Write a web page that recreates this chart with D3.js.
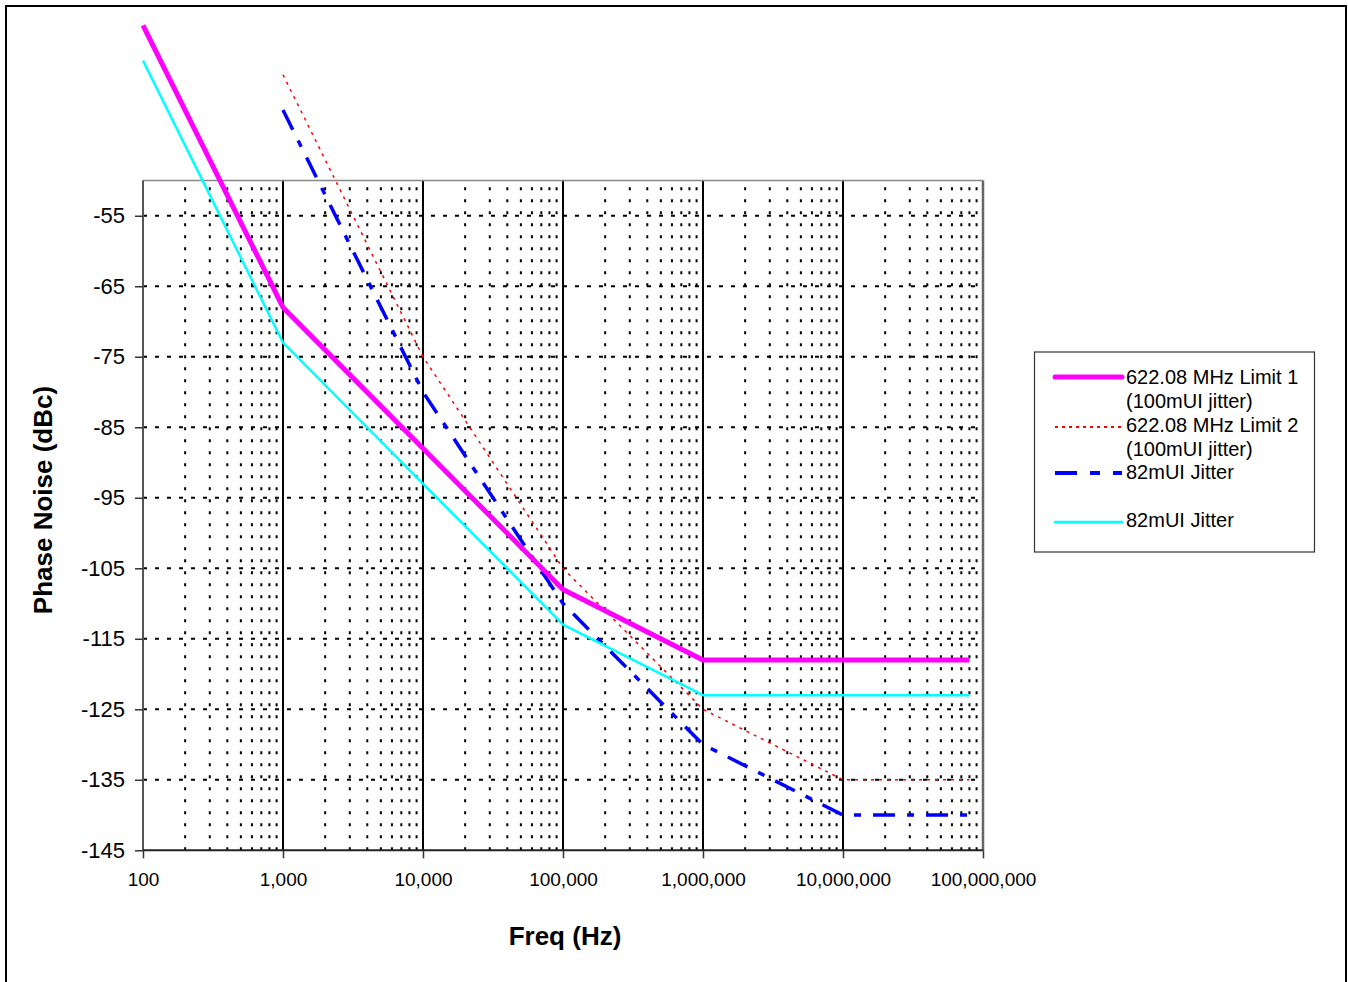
<!DOCTYPE html>
<html>
<head>
<meta charset="utf-8">
<script src="https://cdn.jsdelivr.net/npm/d3@7"></script>
<style>
  body { margin: 0; background: #fff; }
  text { font-family: "Liberation Sans", Arial, Helvetica, sans-serif; }
</style>
</head>
<body>
<script>
// Data
const freqLimit1 = [100, 1000, 100000, 1000000, 80000000]
const limit1 = [-28, -68, -108, -118, -118]
const freqCyan = [100, 1000, 100000, 1000000, 80000000]
const jitterCyan = [-33, -73, -113, -123, -123]
const freqLimit2 = [1000, 10000, 100000, 1000000, 10000000, 80000000]
const limit2 = [-35, -75, -105, -125, -135, -135]
const freqBlue = [1000, 10000, 100000, 1000000, 10000000, 80000000]
const jitterBlue = [-40, -80, -110, -130, -140, -140]

const yTicks = [-55, -65, -75, -85, -95, -105, -115, -125, -135, -145]
const xTicks = [100, 1000, 10000, 100000, 1000000, 10000000, 100000000]

const W = 1348, H = 982
const svg = d3.select('body').append('svg')
  .attr('width', W).attr('height', H)

// outer frame
svg.append('rect')
  .attr('x', 6).attr('y', 6)
  .attr('width', 1340).attr('height', 990)
  .attr('fill', 'none').attr('stroke', '#000').attr('stroke-width', 2)

const pLeft = 143, pRight = 983, pTop = 180.5, pBottom = 850.3

const x = d3.scaleLog().domain([100, 1e8]).range([pLeft, pRight])
const y = d3.scaleLinear().domain([-145, -50]).range([pBottom, pTop])

const g = svg.append('g')

// minor vertical dotted grid
let minors = []
for (let d = 100; d < 1e8; d *= 10) {
  for (let m = 2; m <= 9; m++) minors.push(d * m)
}
g.selectAll('.minor').data(minors).enter()
  .append('line')
  .attr('class', 'minor')
  .attr('x1', d => x(d)).attr('x2', d => x(d))
  .attr('y1', pBottom).attr('y2', pTop)
  .attr('stroke', '#000').attr('stroke-width', 2)
  .attr('stroke-dasharray', '3,9')

// horizontal dashed grid
g.selectAll('.hgrid').data(yTicks.filter(v => v > -145)).enter()
  .append('line')
  .attr('class', 'hgrid')
  .attr('x1', pLeft).attr('x2', pRight)
  .attr('y1', d => y(d)).attr('y2', d => y(d))
  .attr('stroke', '#000').attr('stroke-width', 2)
  .attr('stroke-dasharray', '4,8')

// major vertical lines
g.selectAll('.major').data(xTicks.slice(1, -1)).enter()
  .append('line')
  .attr('class', 'major')
  .attr('x1', d => x(d)).attr('x2', d => x(d))
  .attr('y1', pBottom).attr('y2', pTop)
  .attr('stroke', '#000').attr('stroke-width', 2)

// plot frame top/right
g.append('line')
  .attr('x1', pLeft).attr('x2', pRight).attr('y1', pTop).attr('y2', pTop)
  .attr('stroke', '#888').attr('stroke-width', 1.5)
g.append('line')
  .attr('x1', pRight).attr('x2', pRight).attr('y1', pTop).attr('y2', pBottom)
  .attr('stroke', '#666').attr('stroke-width', 2.5)

// axes
const yAxis = d3.axisLeft(y).tickValues(yTicks).tickSize(8).tickPadding(10)
  .tickFormat(d => d)
const xAxis = d3.axisBottom(x).tickValues(xTicks).tickSize(8).tickPadding(14)
  .tickFormat(d3.format(','))

const ya = svg.append('g').attr('transform', `translate(${pLeft},0)`).call(yAxis)
ya.select('.domain').attr('stroke', '#555').attr('stroke-width', 2)
  .attr('d', `M0,${pTop}V${pBottom}`)
ya.selectAll('.tick line').attr('stroke', '#333').attr('stroke-width', 1.5)
ya.selectAll('.tick text').attr('font-size', 22).attr('fill', '#000')
  .attr('font-family', '"Liberation Sans", Arial, sans-serif')

const xa = svg.append('g').attr('transform', `translate(0,${pBottom})`).call(xAxis)
xa.select('.domain').attr('stroke', '#222').attr('stroke-width', 2)
  .attr('d', `M${pLeft},0H${pRight}`)
xa.selectAll('.tick line').attr('stroke', '#333').attr('stroke-width', 1.5)
xa.selectAll('.tick text').attr('font-size', 19).attr('fill', '#000')
  .attr('font-family', '"Liberation Sans", Arial, sans-serif')

// series lines
const line = d3.line().x(d => x(d[0])).y(d => y(d[1]))

function drawSeries(freqs, vals, color, width, dash) {
  svg.append('path')
    .datum(freqs.map((f, i) => [f, vals[i]]))
    .attr('d', line)
    .attr('fill', 'none')
    .attr('stroke', color)
    .attr('stroke-width', width)
    .attr('stroke-dasharray', dash || null)
    .attr('stroke-linejoin', 'round')
}

drawSeries(freqLimit2, limit2, '#ff0000', 1.5, '3,5')
drawSeries(freqBlue, jitterBlue, '#0000ff', 3.5, '22,12,7,12')
drawSeries(freqCyan, jitterCyan, '#00ffff', 2.5)
drawSeries(freqLimit1, limit1, '#ff00ff', 5)

// axis titles
svg.append('text')
  .attr('x', 565).attr('y', 945)
  .attr('text-anchor', 'middle')
  .attr('font-size', 26).attr('font-weight', 'bold')
  .text('Freq (Hz)')

svg.append('text')
  .attr('transform', 'translate(52,500) rotate(-90)')
  .attr('text-anchor', 'middle')
  .attr('font-size', 26).attr('font-weight', 'bold')
  .text('Phase Noise (dBc)')

// legend
const legendItems = [
  {lines: ['622.08 MHz Limit 1', '(100mUI jitter)'], color: '#ff00ff', width: 5, dash: null, y: 377, ty: 377},
  {lines: ['622.08 MHz Limit 2', '(100mUI jitter)'], color: '#ff0000', width: 2, dash: '3,4', y: 427, ty: 425},
  {lines: ['82mUI Jitter'], color: '#0000ff', width: 4, dash: '22,13,10,13', y: 473, ty: 472},
  {lines: ['82mUI Jitter'], color: '#00ffff', width: 2.5, dash: null, y: 522, ty: 520}
]

const lg = svg.append('g')
lg.append('rect')
  .attr('x', 1034.5).attr('y', 352)
  .attr('width', 280).attr('height', 200)
  .attr('fill', '#fff').attr('stroke', '#333').attr('stroke-width', 1.2)

const li = lg.selectAll('.item').data(legendItems).enter()
  .append('g').attr('class', 'item')

li.append('line')
  .attr('x1', 1055).attr('x2', 1122)
  .attr('y1', d => d.y).attr('y2', d => d.y)
  .attr('stroke', d => d.color)
  .attr('stroke-width', d => d.width)
  .attr('stroke-dasharray', d => d.dash)
  .attr('stroke-linecap', d => d.dash ? 'butt' : 'round')

li.append('text')
  .attr('x', 1126)
  .attr('y', d => d.ty + 7)
  .attr('font-size', 20)
  .selectAll('tspan').data(d => d.lines).enter()
  .append('tspan')
  .attr('x', 1126)
  .attr('dy', (d, i) => i === 0 ? 0 : 24)
  .text(d => d)
</script>
</body>
</html>
